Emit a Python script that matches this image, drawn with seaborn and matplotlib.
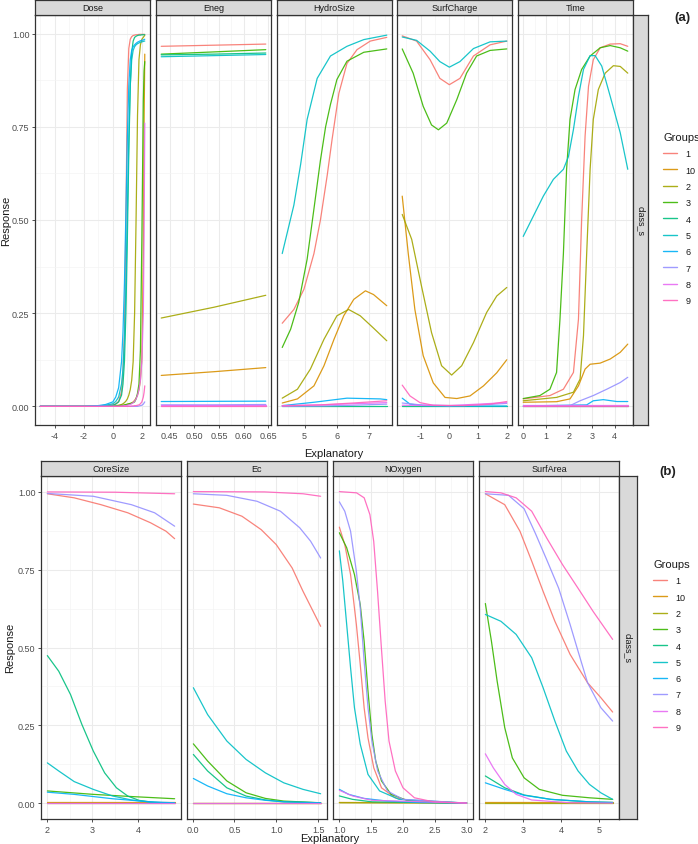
import matplotlib
matplotlib.use("Agg")
import matplotlib.pyplot as plt
import seaborn as sns
import pandas as pd
from matplotlib.lines import Line2D
from matplotlib.ticker import FixedLocator, MultipleLocator

# ---------------- data ----------------
GROUPS = ['1', '10', '2', '3', '4', '5', '6', '7', '8', '9']
COLORS = ['#F8766D', '#D89000', '#A3A500', '#39B600', '#00BF7D',
          '#00BFC4', '#00B0F6', '#9590FF', '#E76BF3', '#FF62BC']

TOP_NAMES = ['Dose', 'Eneg', 'HydroSize', 'SurfCharge', 'Time']
BOT_NAMES = ['CoreSize', 'Ec', 'NOxygen', 'SurfArea']

Y_TICKS = [0.0, 0.25, 0.5, 0.75, 1.0]
Y_LABELS = ['0.00', '0.25', '0.50', '0.75', '1.00']

DOSE_TICKS = [-4, -2, 0, 2]
DOSE_LABELS = ['-4', '-2', '0', '2']
ENEG_TICKS = [0.45, 0.50, 0.55, 0.60, 0.65]
ENEG_LABELS = ['0.45', '0.50', '0.55', '0.60', '0.65']
HYDRO_TICKS = [5, 6, 7]
HYDRO_LABELS = ['5', '6', '7']
SURFC_TICKS = [-1, 0, 1, 2]
SURFC_LABELS = ['-1', '0', '1', '2']
TIME_TICKS = [0, 1, 2, 3, 4]
TIME_LABELS = ['0', '1', '2', '3', '4']
CORE_TICKS = [2, 3, 4]
CORE_LABELS = ['2', '3', '4']
EC_TICKS = [0.0, 0.5, 1.0, 1.5]
EC_LABELS = ['0.0', '0.5', '1.0', '1.5']
NOX_TICKS = [1.0, 1.5, 2.0, 2.5, 3.0]
NOX_LABELS = ['1.0', '1.5', '2.0', '2.5', '3.0']
SAREA_TICKS = [2, 3, 4, 5]
SAREA_LABELS = ['2', '3', '4', '5']

# Dose: shared x grid
DOSE_X = [-5, -2, -1, -0.5, 0, 0.2, 0.4, 0.6, 0.7, 0.8, 0.9, 1.0, 1.1, 1.2,
          1.3, 1.4, 1.5, 1.6, 1.7, 1.8, 1.9, 2.0, 2.1, 2.15, 2.2]
DOSE_Y = {
    '1':  [0, 0, 0.001, 0.002, 0.004, 0.007, 0.013, 0.04, 0.09, 0.2, 0.5, 0.85, 0.96, 0.985, 0.992, 0.995, 0.996, 0.997, 0.997, 0.998, 0.998, 0.998, 0.998, 0.998, 0.998],
    '10': [0, 0, 0, 0, 0, 0.001, 0.001, 0.002, 0.002, 0.003, 0.004, 0.005, 0.006, 0.007, 0.009, 0.012, 0.016, 0.022, 0.03, 0.045, 0.07, 0.13, 0.4, 0.75, 0.945],
    '2':  [0, 0, 0, 0, 0.001, 0.002, 0.003, 0.005, 0.007, 0.01, 0.014, 0.02, 0.03, 0.045, 0.07, 0.12, 0.25, 0.5, 0.78, 0.93, 0.97, 0.985, 0.99, 0.993, 0.995],
    '3':  [0, 0, 0, 0, 0.001, 0.001, 0.002, 0.003, 0.003, 0.004, 0.005, 0.006, 0.007, 0.008, 0.009, 0.01, 0.012, 0.02, 0.035, 0.06, 0.15, 0.45, 0.82, 0.9, 0.925],
    '4':  [0, 0, 0, 0.001, 0.003, 0.006, 0.012, 0.03, 0.06, 0.12, 0.25, 0.45, 0.68, 0.86, 0.95, 0.98, 0.99, 0.993, 0.995, 0.996, 0.996, 0.997, 0.997, 0.997, 0.997],
    '5':  [0, 0, 0.001, 0.003, 0.007, 0.013, 0.025, 0.06, 0.1, 0.18, 0.32, 0.52, 0.72, 0.86, 0.93, 0.955, 0.965, 0.97, 0.973, 0.975, 0.977, 0.978, 0.979, 0.98, 0.98],
    '6':  [0, 0, 0.002, 0.005, 0.012, 0.025, 0.05, 0.12, 0.2, 0.33, 0.52, 0.72, 0.86, 0.93, 0.955, 0.965, 0.97, 0.974, 0.977, 0.979, 0.981, 0.982, 0.983, 0.984, 0.985],
    '7':  [0, 0, 0, 0, 0, 0, 0, 0, 0, 0, 0, 0, 0, 0, 0, 0, 0, 0, 0, 0.001, 0.002, 0.003, 0.006, 0.009, 0.012],
    '8':  [0, 0, 0, 0, 0, 0, 0, 0.001, 0.001, 0.002, 0.002, 0.003, 0.004, 0.005, 0.007, 0.01, 0.014, 0.02, 0.03, 0.045, 0.07, 0.12, 0.25, 0.45, 0.76],
    '9':  [0, 0, 0, 0, 0, 0, 0, 0, 0, 0, 0, 0, 0, 0, 0.001, 0.001, 0.002, 0.002, 0.003, 0.004, 0.007, 0.012, 0.025, 0.037, 0.055],
}

ENEG_X = [0.433, 0.54, 0.645]
ENEG_Y = {
    '1': [0.966, 0.969, 0.972], '10': [0.083, 0.093, 0.104], '2': [0.237, 0.266, 0.298],
    '3': [0.945, 0.951, 0.957], '4': [0.943, 0.945, 0.948], '5': [0.938, 0.941, 0.944],
    '6': [0.013, 0.0135, 0.014], '7': [0.004, 0.004, 0.005], '8': [0.003, 0.003, 0.003],
    '9': [0.002, 0.002, 0.002],
}

HYDRO = {
    '1':  ([4.31, 4.67, 4.98, 5.29, 5.49, 5.7, 5.85, 6.06, 6.31, 6.62, 7.03, 7.54],
           [0.223, 0.26, 0.314, 0.41, 0.5, 0.62, 0.716, 0.84, 0.92, 0.957, 0.98, 0.99]),
    '10': ([4.31, 4.78, 5.29, 5.6, 5.91, 6.21, 6.52, 6.88, 7.13, 7.54],
           [0.009, 0.02, 0.055, 0.109, 0.18, 0.243, 0.287, 0.31, 0.30, 0.27]),
    '2':  ([4.31, 4.78, 5.18, 5.6, 6.0, 6.36, 6.72, 7.13, 7.54],
           [0.022, 0.046, 0.1, 0.18, 0.243, 0.26, 0.243, 0.21, 0.176]),
    '3':  ([4.31, 4.57, 4.82, 5.08, 5.29, 5.49, 5.65, 5.8, 6.0, 6.31, 6.83, 7.54],
           [0.158, 0.207, 0.279, 0.395, 0.53, 0.66, 0.75, 0.81, 0.877, 0.926, 0.95, 0.959]),
    '4':  ([4.31, 7.54], [0.001, 0.001]),
    '5':  ([4.31, 4.67, 4.88, 5.08, 5.39, 5.8, 6.31, 6.83, 7.54],
           [0.41, 0.54, 0.65, 0.77, 0.88, 0.94, 0.966, 0.984, 0.996]),
    '6':  ([4.31, 5.29, 6.31, 7.34, 7.54], [0.002, 0.011, 0.022, 0.02, 0.018]),
    '7':  ([4.31, 5.5, 6.5, 7.54], [0.0, 0.001, 0.003, 0.006]),
    '8':  ([4.31, 5.5, 6.5, 7.54], [0.002, 0.004, 0.007, 0.01]),
    '9':  ([4.31, 5.5, 6.5, 7.54], [0.001, 0.004, 0.009, 0.015]),
}

SURFC = {
    '1':  ([-1.64, -1.14, -0.67, -0.33, 0, 0.37, 0.84, 1.42, 2.0],
           [0.994, 0.98, 0.93, 0.88, 0.863, 0.88, 0.94, 0.97, 0.98]),
    '10': ([-1.64, -1.43, -1.2, -0.91, -0.56, -0.15, 0.26, 0.72, 1.19, 1.65, 2.0],
           [0.564, 0.41, 0.26, 0.136, 0.063, 0.024, 0.021, 0.028, 0.055, 0.09, 0.125]),
    '2':  ([-1.64, -1.31, -0.97, -0.62, -0.27, 0.08, 0.43, 0.84, 1.30, 1.65, 2.0],
           [0.515, 0.448, 0.323, 0.198, 0.109, 0.084, 0.109, 0.171, 0.252, 0.296, 0.319]),
    '3':  ([-1.64, -1.26, -0.91, -0.62, -0.38, -0.09, 0.26, 0.6, 0.95, 1.42, 2.0],
           [0.959, 0.894, 0.805, 0.755, 0.742, 0.76, 0.823, 0.894, 0.94, 0.955, 0.959]),
    '4':  ([-1.64, 2.0], [0.001, 0.001]),
    '5':  ([-1.64, -1.14, -0.67, -0.33, 0, 0.37, 0.84, 1.42, 2.0],
           [0.991, 0.982, 0.953, 0.925, 0.91, 0.925, 0.96, 0.978, 0.98]),
    '6':  ([-1.64, -1.37, -0.91, 0, 1, 2.0], [0.022, 0.006, 0.002, 0.001, 0.001, 0.001]),
    '7':  ([-1.64, -1.0, 0, 1, 2.0], [0.009, 0.004, 0.002, 0.003, 0.008]),
    '8':  ([-1.64, 0, 2.0], [0.003, 0.002, 0.01]),
    '9':  ([-1.64, -1.37, -1.02, -0.56, 0.5, 1.42, 2.0],
           [0.057, 0.028, 0.01, 0.003, 0.002, 0.006, 0.013]),
}

TIME = {
    '1':  ([0, 1.17, 1.76, 2.2, 2.42, 2.56, 2.71, 2.86, 3.07, 3.37, 3.81, 4.25, 4.58],
           [0.02, 0.029, 0.046, 0.091, 0.234, 0.502, 0.725, 0.859, 0.93, 0.962, 0.972, 0.973, 0.966]),
    '10': ([0, 1.46, 2.05, 2.42, 2.71, 2.93, 3.37, 3.81, 4.25, 4.58],
           [0.011, 0.0125, 0.02, 0.055, 0.1, 0.113, 0.116, 0.127, 0.145, 0.167]),
    '2':  ([0, 1.46, 2.2, 2.49, 2.64, 2.78, 2.93, 3.07, 3.29, 3.59, 3.95, 4.25, 4.58],
           [0.015, 0.024, 0.038, 0.073, 0.19, 0.41, 0.636, 0.77, 0.85, 0.894, 0.914, 0.912, 0.894]),
    '3':  ([0, 0.73, 1.17, 1.46, 1.61, 1.76, 1.9, 2.05, 2.27, 2.56, 2.93, 3.37, 3.81, 4.25, 4.58],
           [0.021, 0.029, 0.046, 0.091, 0.234, 0.41, 0.636, 0.77, 0.85, 0.904, 0.94, 0.962, 0.968, 0.962, 0.953]),
    '4':  ([0, 4.58], [0.001, 0.001]),
    '5':  ([0, 0.44, 0.88, 1.32, 1.76, 1.98, 2.2, 2.42, 2.64, 2.93, 3.15, 3.44, 3.81, 4.25, 4.58],
           [0.456, 0.51, 0.564, 0.609, 0.636, 0.67, 0.743, 0.832, 0.904, 0.941, 0.941, 0.913, 0.832, 0.734, 0.636]),
    '6':  ([0, 2.78, 3.07, 3.51, 4.1, 4.58], [0.001, 0.004, 0.015, 0.018, 0.013, 0.013]),
    '7':  ([0, 2.05, 2.49, 3.07, 3.66, 4.25, 4.58], [0, 0.002, 0.015, 0.029, 0.046, 0.064, 0.078]),
    '8':  ([0, 4.58], [0.004, 0.004]),
    '9':  ([0, 4.58], [0.002, 0.002]),
}

CORE = {
    '1':  ([2.01, 2.6, 3.19, 3.78, 4.28, 4.62, 4.81], [0.993, 0.98, 0.958, 0.932, 0.9, 0.873, 0.849]),
    '10': ([2.01, 4.81], [0.003, 0.003]),
    '2':  ([2.01, 4.81], [0.002, 0.002]),
    '3':  ([2.01, 3.02, 3.86, 4.81], [0.04, 0.029, 0.022, 0.015]),
    '4':  ([2.01, 2.26, 2.52, 2.77, 3.02, 3.27, 3.53, 3.78, 4.03, 4.37, 4.81],
           [0.474, 0.424, 0.349, 0.253, 0.168, 0.098, 0.05, 0.0235, 0.0096, 0.003, 0.001]),
    '5':  ([2.01, 2.26, 2.6, 3.02, 3.44, 3.86, 4.28, 4.81], [0.13, 0.104, 0.07, 0.045, 0.024, 0.011, 0.004, 0.001]),
    '6':  ([2.01, 2.6, 3.44, 4.28, 4.81], [0.036, 0.029, 0.015, 0.005, 0.002]),
    '7':  ([2.01, 3.02, 3.86, 4.37, 4.81], [0.994, 0.985, 0.958, 0.932, 0.889]),
    '8':  ([2.01, 4.81], [0.0005, 0.0005]),
    '9':  ([2.01, 3.5, 4.81], [0.999, 0.998, 0.993]),
}

EC = {
    '1':  ([0.01, 0.32, 0.59, 0.82, 1.0, 1.19, 1.32, 1.44, 1.53], [0.96, 0.948, 0.921, 0.878, 0.83, 0.755, 0.68, 0.616, 0.568]),
    '10': ([0.01, 1.53], [0.002, 0.002]),
    '2':  ([0.01, 1.53], [0.001, 0.001]),
    '3':  ([0.01, 0.18, 0.41, 0.64, 0.87, 1.09, 1.53], [0.191, 0.136, 0.072, 0.034, 0.016, 0.0075, 0.002]),
    '4':  ([0.01, 0.18, 0.41, 0.64, 0.87, 1.09, 1.53], [0.157, 0.104, 0.05, 0.0235, 0.011, 0.005, 0.002]),
    '5':  ([0.01, 0.18, 0.41, 0.64, 0.87, 1.09, 1.32, 1.53], [0.371, 0.285, 0.2, 0.141, 0.098, 0.066, 0.045, 0.031]),
    '6':  ([0.01, 0.18, 0.41, 0.64, 0.87, 1.09, 1.53], [0.08, 0.056, 0.031, 0.018, 0.01, 0.005, 0.002]),
    '7':  ([0.01, 0.41, 0.77, 1.05, 1.28, 1.41, 1.53], [0.993, 0.988, 0.969, 0.937, 0.884, 0.841, 0.787]),
    '8':  ([0.01, 1.53], [0.001, 0.001]),
    '9':  ([0.01, 0.86, 1.32, 1.53], [1.0, 0.999, 0.993, 0.985]),
}

NOX = {
    '1':  ([1.0, 1.085, 1.176, 1.267, 1.328, 1.389, 1.45, 1.541, 1.662, 1.876, 2.24, 3.0],
           [0.886, 0.83, 0.734, 0.574, 0.446, 0.307, 0.21, 0.114, 0.05, 0.018, 0.005, 0.001]),
    '10': ([1.0, 3.0], [0.003, 0.002]),
    '2':  ([1.0, 3.0], [0.002, 0.001]),
    '3':  ([1.0, 1.115, 1.237, 1.328, 1.389, 1.45, 1.511, 1.571, 1.662, 1.814, 2.058, 3.0],
           [0.868, 0.82, 0.734, 0.638, 0.52, 0.36, 0.221, 0.136, 0.072, 0.029, 0.01, 0.001]),
    '4':  ([1.0, 1.206, 1.511, 3.0], [0.024, 0.013, 0.005, 0.001]),
    '5':  ([1.0, 1.054, 1.115, 1.176, 1.237, 1.328, 1.45, 1.632, 1.937, 3.0],
           [0.81, 0.713, 0.574, 0.435, 0.307, 0.19, 0.093, 0.04, 0.013, 0.001]),
    '6':  ([1.0, 1.146, 1.389, 1.754, 2.24, 3.0], [0.045, 0.029, 0.016, 0.0075, 0.003, 0.001]),
    '7':  ([1.0, 1.085, 1.176, 1.267, 1.328, 1.389, 1.45, 1.511, 1.602, 1.754, 2.0, 3.0],
           [0.967, 0.937, 0.873, 0.745, 0.627, 0.456, 0.307, 0.2, 0.104, 0.04, 0.013, 0.001]),
    '8':  ([1.0, 1.206, 1.511, 3.0], [0.042, 0.024, 0.01, 0.001]),
    '9':  ([1.0, 1.27, 1.39, 1.48, 1.54, 1.6, 1.66, 1.72, 1.78, 1.88, 2.0, 2.18, 2.48, 3.0],
           [1.0, 0.996, 0.98, 0.926, 0.84, 0.68, 0.5, 0.328, 0.2, 0.104, 0.05, 0.018, 0.005, 0.001]),
}

SAREA = {
    '1':  ([2.0, 2.51, 2.91, 3.22, 3.52, 3.83, 4.23, 4.69, 5.04, 5.35],
           [0.993, 0.958, 0.873, 0.777, 0.68, 0.584, 0.478, 0.387, 0.339, 0.293]),
    '10': ([2.0, 5.35], [0.004, 0.004]),
    '2':  ([2.0, 5.35], [0.002, 0.002]),
    '3':  ([2.0, 2.16, 2.31, 2.51, 2.71, 3.02, 3.42, 4.03, 4.74, 5.35],
           [0.641, 0.52, 0.392, 0.243, 0.146, 0.082, 0.045, 0.026, 0.018, 0.013]),
    '4':  ([2.0, 2.51, 3.02, 3.72, 4.74, 5.35], [0.088, 0.05, 0.027, 0.013, 0.005, 0.003]),
    '5':  ([2.0, 2.41, 2.81, 3.22, 3.52, 3.83, 4.13, 4.44, 4.74, 5.04, 5.35],
           [0.606, 0.584, 0.542, 0.467, 0.371, 0.264, 0.168, 0.104, 0.061, 0.034, 0.013]),
    '6':  ([2.0, 2.51, 3.02, 3.72, 4.74, 5.35], [0.066, 0.045, 0.026, 0.013, 0.005, 0.003]),
    '7':  ([2.0, 2.61, 3.02, 3.32, 3.62, 3.93, 4.23, 4.44, 4.69, 5.04, 5.35],
           [0.993, 0.988, 0.945, 0.865, 0.78, 0.69, 0.574, 0.488, 0.387, 0.307, 0.264]),
    '8':  ([2.0, 2.21, 2.51, 2.81, 3.22, 4.23, 5.35], [0.159, 0.114, 0.061, 0.029, 0.011, 0.002, 0.001]),
    '9':  ([2.0, 2.41, 2.81, 3.22, 3.62, 4.03, 4.44, 4.84, 5.35],
           [1.0, 0.996, 0.98, 0.937, 0.85, 0.766, 0.69, 0.615, 0.526]),
}


# ---------------- helpers ----------------
def frame_shared(xs, ydict):
    rows = []
    for g in GROUPS:
        for x, y in zip(xs, ydict[g]):
            rows.append((x, y, g))
    return pd.DataFrame(rows, columns=['Explanatory', 'Response', 'Groups'])


def frame_curves(curves):
    rows = []
    for g in GROUPS:
        xs, ys = curves[g]
        for x, y in zip(xs, ys):
            rows.append((x, y, g))
    return pd.DataFrame(rows, columns=['Explanatory', 'Response', 'Groups'])


sns.set_style('white')
plt.rcParams['font.family'] = ['Liberation Sans', 'DejaVu Sans']

W, H = 698, 845
fig = plt.figure(figsize=(W / 100, H / 100), dpi=100)

BORDER = '#333333'
TICKCOL = '#4D4D4D'


def box(x0, x1, y0, y1):
    return [x0 / W, 1 - y1 / H, (x1 - x0) / W, (y1 - y0) / H]


def strip(x0, x1, y0, y1, text, rot=0):
    sa = fig.add_axes(box(x0, x1, y0, y1))
    sa.set_facecolor('#D9D9D9')
    sa.set_xticks([]); sa.set_yticks([])
    for s in sa.spines.values():
        s.set_color(BORDER); s.set_linewidth(0.9)
    sa.text(0.5, 0.5, text, ha='center', va='center', rotation=rot,
            fontsize=6.5, color='#1A1A1A', transform=sa.transAxes)


def panel(rect, df, name, ticks, labels, first, y0, y1, strip_h):
    x0, x1 = rect
    ax = fig.add_axes(box(x0, x1, y0, y1))
    sns.lineplot(data=df, x='Explanatory', y='Response', hue='Groups',
                 hue_order=GROUPS, palette=COLORS, estimator=None,
                 linewidth=0.9, alpha=0.9, ax=ax, legend=False)
    lo, hi = df['Explanatory'].min(), df['Explanatory'].max()
    pad = (hi - lo) * 0.05
    ax.set_xlim(lo - pad, hi + pad)
    ax.set_ylim(-0.05, 1.05)
    step = ticks[1] - ticks[0]
    ax.xaxis.set_major_locator(FixedLocator(ticks))
    ax.set_xticklabels(labels)
    ax.xaxis.set_minor_locator(MultipleLocator(step / 2))
    ax.yaxis.set_major_locator(FixedLocator(Y_TICKS))
    ax.yaxis.set_minor_locator(MultipleLocator(0.125))
    ax.grid(which='major', color='#EBEBEB', linewidth=0.75)
    ax.grid(which='minor', color='#F3F3F3', linewidth=0.45)
    ax.set_axisbelow(True)
    ax.set_xlabel(''); ax.set_ylabel('')
    for s in ax.spines.values():
        s.set_color(BORDER); s.set_linewidth(0.9)
    ax.tick_params(axis='both', which='major', length=2.5, width=0.6,
                   color=BORDER, labelsize=6.5, labelcolor=TICKCOL, pad=1.5,
                   bottom=True, left=first, labelleft=first)
    ax.tick_params(which='minor', length=0)
    if first:
        ax.set_yticklabels(Y_LABELS)
    strip(x0, x1, y0 - strip_h, y0, name)
    return ax


# ---------------- top block (a) ----------------
top_rects = [(35, 150), (156, 271), (277, 392), (397, 512), (518, 633)]
top_frames = [frame_shared(DOSE_X, DOSE_Y), frame_shared(ENEG_X, ENEG_Y),
              frame_curves(HYDRO), frame_curves(SURFC), frame_curves(TIME)]
top_ticks = [(DOSE_TICKS, DOSE_LABELS), (ENEG_TICKS, ENEG_LABELS),
             (HYDRO_TICKS, HYDRO_LABELS), (SURFC_TICKS, SURFC_LABELS),
             (TIME_TICKS, TIME_LABELS)]
TY0, TY1 = 16, 426
for i, (r, df, name, (tk, tl)) in enumerate(zip(top_rects, top_frames, TOP_NAMES, top_ticks)):
    panel(r, df, name, tk, tl, i == 0, TY0, TY1, 15)
strip(633, 648, TY0, TY1, 'class_s', rot=-90)

# ---------------- bottom block (b) ----------------
bot_rects = [(41, 181), (187, 327), (333, 473), (479, 619)]
bot_frames = [frame_curves(CORE), frame_curves(EC), frame_curves(NOX), frame_curves(SAREA)]
bot_ticks = [(CORE_TICKS, CORE_LABELS), (EC_TICKS, EC_LABELS),
             (NOX_TICKS, NOX_LABELS), (SAREA_TICKS, SAREA_LABELS)]
BY0, BY1 = 477, 820
for i, (r, df, name, (tk, tl)) in enumerate(zip(bot_rects, bot_frames, BOT_NAMES, bot_ticks)):
    panel(r, df, name, tk, tl, i == 0, BY0, BY1, 15)
strip(619, 637, BY0, BY1, 'class_s', rot=-90)

# ---------------- titles ----------------
fig.text(334 / W, 1 - 454 / H, 'Explanatory', ha='center', va='center', fontsize=8, color='#1A1A1A')
fig.text(330 / W, 1 - 839 / H, 'Explanatory', ha='center', va='center', fontsize=8, color='#1A1A1A')
fig.text(6 / W, 1 - 221 / H, 'Response', ha='center', va='center', rotation=90, fontsize=8, color='#1A1A1A')
fig.text(10 / W, 1 - 648 / H, 'Response', ha='center', va='center', rotation=90, fontsize=8, color='#1A1A1A')
fig.text(682 / W, 1 - 18 / H, '(a)', ha='center', va='center', fontsize=9.5, fontweight='bold', color='#222222')
fig.text(668 / W, 1 - 472 / H, '(b)', ha='center', va='center', fontsize=9.5, fontweight='bold', color='#222222')

# ---------------- legends ----------------
handles = [Line2D([0], [0], color=c, lw=1.0, alpha=0.9) for c in COLORS]
for (lx, ly) in [(663, 133), (653, 560)]:
    leg = fig.legend(handles, GROUPS, loc='upper left', bbox_to_anchor=(lx / W, 1 - ly / H),
                     frameon=False, title='Groups', alignment='left', fontsize=6.5,
                     title_fontsize=8, handlelength=1.6, handletextpad=0.9,
                     labelspacing=0.81, borderpad=0, borderaxespad=0)
    leg.get_title().set_color('#1A1A1A')
    for t in leg.get_texts():
        t.set_color('#1A1A1A')

fig.savefig('out.png', dpi=100, facecolor='white')
